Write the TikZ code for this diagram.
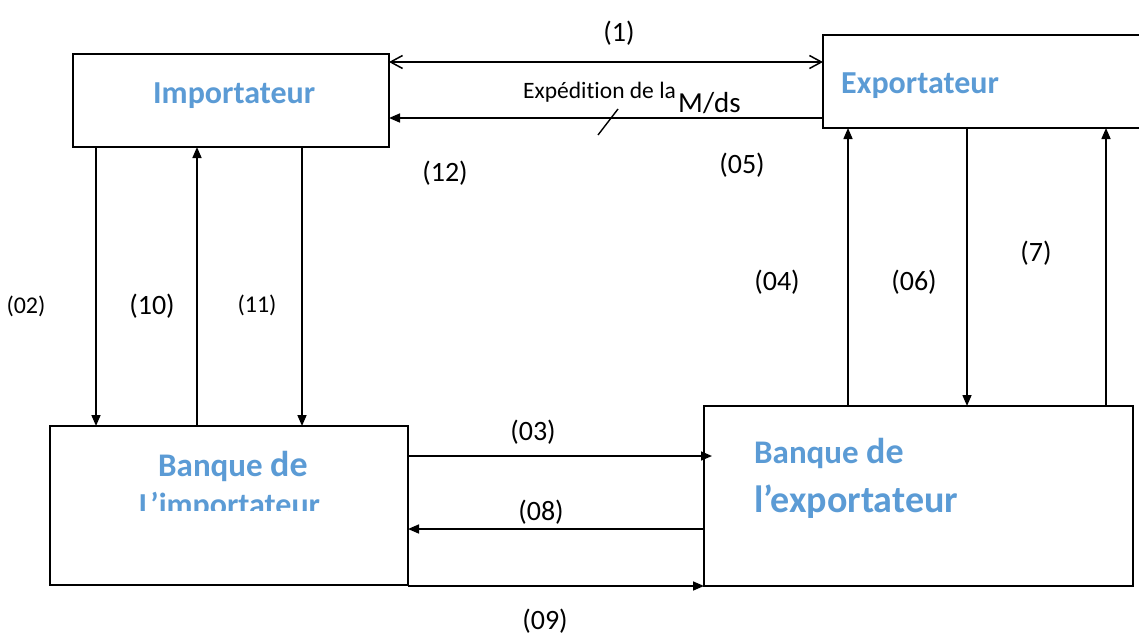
\documentclass[tikz,border=0pt]{standalone}
\usepackage{fontspec}
\setmainfont[Ligatures=NoCommon]{Carlito}
\usetikzlibrary{arrows.meta}
\definecolor{titleblue}{HTML}{5B9BD5}
\begin{document}
\begin{tikzpicture}[x=1pt,y=-1pt,
  box/.style={draw, line width=1.3pt, inner sep=0pt, outer sep=0pt},
  arr/.style={line width=1.6pt, -{Triangle[length=11pt,width=9pt]}},
  dbl/.style={line width=1.5pt, {Straight Barb[length=12pt,width=13pt]}-{Straight Barb[length=12pt,width=13pt]}},
  lab/.style={font=\fontsize{28}{30}\selectfont, inner sep=0pt},
  slab/.style={font=\fontsize{24}{26}\selectfont, inner sep=0pt},
  ttl/.style={text=titleblue, font=\bfseries\fontsize{32}{34}\selectfont, inner sep=0pt, anchor=base west},
]
\clip (0,0) rectangle (1139,637);
\fill[white] (0,0) rectangle (1139,637);

% boxes
\node[box, minimum width=316pt, minimum height=93pt] (imp) at (231,100.5) {};
\node[box, minimum width=327pt, minimum height=93pt] (exp) at (986.5,81.5) {};
\node[box, minimum width=358pt, minimum height=159pt] (bimp) at (229,505.5) {};
\node[box, minimum width=429pt, minimum height=180pt] (bexp) at (918.5,496) {};

% titles
\node[ttl] (timp) at (153,103) {Importateur};
\node[ttl] (texp) at (841,93) {Exportateur};
\node[ttl, font=\bfseries\fontsize{33}{35}\selectfont] (tbimp) at (158,476) {Banque {\fontsize{36}{38}\selectfont de}};
\begin{scope}
  \clip (0,0) rectangle (1139,510);
  \node[ttl] (tbimp2) at (139,515) {L’importateur};
\end{scope}
\node[ttl, font=\bfseries\fontsize{33}{35}\selectfont] (tbexp) at (754,463) {Banque {\fontsize{36}{38}\selectfont de}};
\node[ttl, font=\bfseries\fontsize{38}{40}\selectfont] (tbexp2) at (754,512) {l’exportateur};

% top connectors
\draw[dbl] (imp.east |- 0,62) -- (exp.west |- 0,62);
\draw[arr] (exp.west |- 0,118) -- (imp.east |- 0,118);
\coordinate (s1) at (598,135);
\coordinate (s2) at (618,109);
\draw[line width=1.4pt] (s1) -- (s2);

% left verticals
\draw[arr] (imp.south -| 96,0) -- (bimp.north -| 96,0);
\draw[arr] (bimp.north -| 197,0) -- (imp.south -| 197,0);
\draw[arr] (imp.south -| 302,0) -- (bimp.north -| 302,0);

% right verticals
\draw[arr] (bexp.north -| 848,0) -- (exp.south -| 848,0);
\draw[arr] (exp.south -| 967,0) -- (bexp.north -| 967,0);
\draw[arr] (bexp.north -| 1106,0) -- (exp.south -| 1106,0);

% bottom horizontals
\draw[arr, shorten >=-8pt] (bimp.east |- 0,456) -- (bexp.west |- 0,456);
\draw[arr] (bexp.west |- 0,529) -- (bimp.east |- 0,529);
\draw[arr] (bimp.east |- 0,586) -- (bexp.west |- 0,586);

% labels
\node[lab] (l1) at (619,33) {(1)};
\node[inner sep=0pt, anchor=base west, font=\fontsize{23.5}{25}\selectfont] (lexp) at (523,98) {Expédition de la};
\node[inner sep=0pt, anchor=base west, font=\fontsize{29}{31}\selectfont] (lmds) at (678,112) {M/ds};
\node[lab] (l12) at (445,173) {(12)};
\node[lab] (l05) at (742,165) {(05)};
\node[slab] (l02) at (26,306) {(02)};
\node[lab] (l10) at (152,306) {(10)};
\node[slab] (l11) at (257,305) {(11)};
\node[lab] (l04) at (777,282) {(04)};
\node[lab] (l06) at (914,282) {(06)};
\node[lab] (l7) at (1036,253) {(7)};
\node[lab] (l03) at (533,432) {(03)};
\node[lab] (l08) at (541,512) {(08)};
\node[lab] (l09) at (545,621) {(09)};
\end{tikzpicture}
\end{document}
